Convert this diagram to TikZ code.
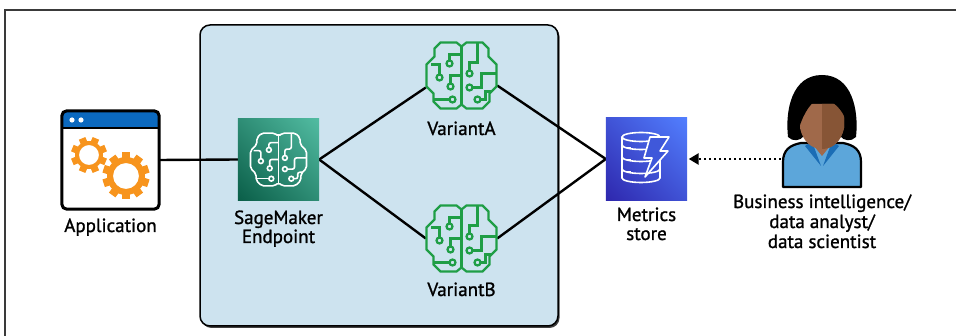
\documentclass[tikz,border=0pt]{standalone}
\usepackage{fontspec}
\setmainfont{PT Sans}
\newfontfamily\labelfont{PT Sans}[FakeBold=1.2]
\usetikzlibrary{arrows.meta,shadings}

\definecolor{panelfill}{HTML}{CDE3EF}
\definecolor{framegray}{HTML}{3A3A3A}
\definecolor{titleblue}{HTML}{0B69BF}
\definecolor{gearorange}{HTML}{F7941D}
\definecolor{braingreen}{HTML}{1F9E46}
\definecolor{smdark}{HTML}{0A5E48}
\definecolor{smmid}{HTML}{2E8D75}
\definecolor{smlight}{HTML}{52BCA2}
\definecolor{msdark}{HTML}{2E27AD}
\definecolor{msmid}{HTML}{4053D6}
\definecolor{mslight}{HTML}{527FFF}
\definecolor{boltfill}{HTML}{3F58DA}
\definecolor{shirtblue}{HTML}{5CA6DA}
\definecolor{collarblue}{HTML}{1B6DB5}
\definecolor{skinlight}{HTML}{A0694A}
\definecolor{skindark}{HTML}{875536}

% brain glyph in local units (y up), drawn with the current stroke colour
\newcommand{\braindraw}{%
  \draw (0,29) -- (-5,33) -- (-21,33) -- (-27,27) -- (-27,19) -- (-35,11)
    -- (-35,-11) -- (-28,-18) -- (-28,-26) -- (-21,-33) -- (-5,-33) -- (0,-29)
    -- (5,-33) -- (21,-33) -- (28,-26) -- (28,-18) -- (35,-11) -- (35,11)
    -- (27,19) -- (27,27) -- (21,33) -- (5,33) -- cycle;
  \draw (0,29) -- (0,-29);
  % left lobe traces
  \draw (0,21) -- (-12,21) -- (-12,15);  \draw (-12,12) circle (3);
  \draw (-22,1) -- (-22,11) -- (-31,11); \draw (-22,-2) circle (3);
  \draw (-11,-8) -- (-11,0) -- (0,0);    \draw (-11,-11) circle (3);
  \draw (-12,-24) -- (-28,-24);          \draw (-9,-24) circle (3);
  % right lobe traces
  \draw (8,5) -- (8,13) -- (16,13) -- (16,33); \draw (8,2) circle (3);
  \draw (11,-12) -- (20,-12) -- (20,2) -- (35,2); \draw (8,-12) circle (3);
  \draw (19,-24) -- (24,-24) -- (24,-16) -- (30,-16); \draw (16,-24) circle (3);
}

\begin{document}
\begin{tikzpicture}[x=1pt,y=-1pt,
  iconbox/.style={inner sep=0pt, minimum width=#1},
  lbl/.style={font=\labelfont\fontsize{19}{20}\selectfont, inner sep=0pt, anchor=base, text=black},
  conn/.style={draw=black, line width=2.4pt},
  dotconn/.style={draw=black, line width=2.5pt, dash pattern=on 2.5pt off 2.5pt,
    -{Triangle[length=10pt,width=11pt]}, shorten >=1.5pt},
  gear/.style={fill=gearorange}]
\useasboundingbox (0,0) rectangle (956,336);

% outer frame
\draw[framegray, line width=1.5pt] (5,345) -- (5,10) -- (965,10);

% endpoint panel with its shadow
\fill[black!75, rounded corners=10pt] (201.5,26.5) rectangle (559.5,328);
\filldraw[fill=panelfill, draw=black, line width=1.5pt, rounded corners=10pt]
  (200,25) rectangle (558,326);

% ---------------- nodes ----------------
\node[iconbox=97pt, minimum height=98pt] (app) at (110.5,160) {};
\node[iconbox=81pt, minimum height=81pt] (sm)  at (278.5,159.5) {};
\node[iconbox=71pt, minimum height=66pt] (va)  at (461.5,75.5) {};
\node[iconbox=71pt, minimum height=66pt] (vb)  at (461.5,238.5) {};
\node[iconbox=81pt, minimum height=82pt] (ms)  at (646.5,159) {};
\node[iconbox=80pt, minimum height=112pt] (person) at (822,131) {};
\coordinate (personL) at (781,159);

% ---------------- connectors ----------------
\draw[conn] (app.east) -- (sm.west);
\draw[conn] (sm.east) -- ([yshift=-12pt]va.west);
\draw[conn] (sm.east) -- (vb.west);
\draw[conn] ([yshift=-10pt]va.east) -- (ms.west);
\draw[conn] (vb.east) -- (ms.west);
\draw[dotconn] (personL) -- (ms.east);

% ---------------- application window ----------------
\fill[white, rounded corners=5pt] (app.south west) rectangle (app.north east);
\begin{scope}
  \clip[rounded corners=5pt] (app.south west) rectangle (app.north east);
  \fill[titleblue] (62,111) rectangle (159,128);
\end{scope}
\draw[black, line width=1.5pt] (62,128) -- (159,128);
\fill[white] (72,120) circle (2.6) (81,120) circle (2.6);
\begin{scope}[shift={(89,155)}]
  \fill[gear, even odd rule] (0,0) circle (14) (0,0) circle (10);
  \foreach \a in {0,45,...,315}{\fill[gear, rotate=\a+22.5] (-3.5,12) rectangle (3.5,18);}
\end{scope}
\begin{scope}[shift={(126,176)}]
  \fill[gear, even odd rule] (0,0) circle (19) (0,0) circle (13);
  \foreach \a in {0,36,...,324}{\fill[gear, rotate=\a] (-4,16) rectangle (4,23.5);}
\end{scope}
\draw[black, line width=3pt, rounded corners=5pt] (app.south west) rectangle (app.north east);

% ---------------- SageMaker endpoint ----------------
\shade[lower left=smdark, upper right=smlight, upper left=smmid, lower right=smmid]
  (sm.south west) rectangle (sm.north east);
\begin{scope}[shift={(sm.center)}, yscale=-1, scale=0.8, white, line width=1.6pt,
    rounded corners=2pt]
  \braindraw
\end{scope}

% ---------------- variants ----------------
\begin{scope}[shift={(va.center)}, yscale=-1, braingreen, line width=2.2pt]
  \braindraw
\end{scope}
\begin{scope}[shift={(vb.center)}, yscale=-1, braingreen, line width=2.2pt]
  \braindraw
\end{scope}

% ---------------- metrics store ----------------
\shade[lower left=msdark, upper right=mslight, upper left=msmid, lower right=msmid]
  (ms.south west) rectangle (ms.north east);
\begin{scope}[white, line width=1.6pt]
  \draw (641,137) ellipse (19 and 4.5);
  \draw (622,137) -- (622,178) arc (180:0:19 and 4.5) -- (660,137);
  \foreach \yy in {149,161,173}{\draw (622,\yy-4) arc (180:0:19 and 4.5);}
  \foreach \yy in {148,160,172}{\draw (627,\yy) -- (631,\yy);}
  \filldraw[fill=boltfill, line join=round] (650,137) -- (669,137) -- (660,151) -- (668,151)
    -- (645,177) -- (652,158) -- (644,158) -- cycle;
\end{scope}

% ---------------- person ----------------
\fill[black] (788,137) .. controls (785,110) and (792,75) .. (822,75)
  .. controls (852,75) and (859,110) .. (856,137)
  .. controls (851,142) and (844,141) .. (840,136) -- (804,136)
  .. controls (800,141) and (793,142) .. (788,137) -- cycle;
\filldraw[fill=shirtblue, draw=black, line width=2.2pt, line join=round]
  (783,187) -- (783,162) .. controls (783,150) and (790,145) .. (801,143)
  -- (843,143) .. controls (854,145) and (861,150) .. (861,162) -- (861,187) -- cycle;
\fill[skinlight] (813,130) rectangle (831,145);
\fill[skinlight] (812,143.5) -- (832,143.5) -- (822,156) -- cycle;
\fill[collarblue] (805,146) -- (812,141.5) -- (821,166) -- cycle;
\fill[collarblue] (839,146) -- (832,141.5) -- (823,166) -- cycle;
\fill[skinlight] (800,104) -- (800,128) .. controls (803,142) and (812,149) .. (822,149)
  .. controls (832,149) and (841,142) .. (844,128) -- (844,104) -- cycle;
\begin{scope}
  \clip (822,90) rectangle (850,155);
  \fill[skindark] (800,104) -- (800,128) .. controls (803,142) and (812,149) .. (822,149)
    .. controls (832,149) and (841,142) .. (844,128) -- (844,104) -- cycle;
\end{scope}
\fill[black] (799,128) -- (799,100) .. controls (804,86) and (840,84) .. (845,100)
  -- (845,118) .. controls (840,106) and (830,99) .. (821,98)
  .. controls (812,100) and (804,112) .. (799,128) -- cycle;

% ---------------- labels ----------------
\node[lbl] (appname) at (110.5,232) {Application};
\node[lbl] (smname) at (278.5,224) {SageMaker};
\node[lbl] (smname2) at (278.5,243) {Endpoint};
\node[lbl] (vaname) at (461.5,135) {VariantA};
\node[lbl] (vbname) at (461.5,296) {VariantB};
\node[lbl] (msname) at (646.5,221) {Metrics};
\node[lbl] (msname2) at (646.5,240) {store};
\node[lbl] (pname) at (822,208) {Business intelligence/};
\node[lbl] (pname2) at (822,228) {data analyst/};
\node[lbl] (pname3) at (822,248) {data scientist};
\end{tikzpicture}
\end{document}
